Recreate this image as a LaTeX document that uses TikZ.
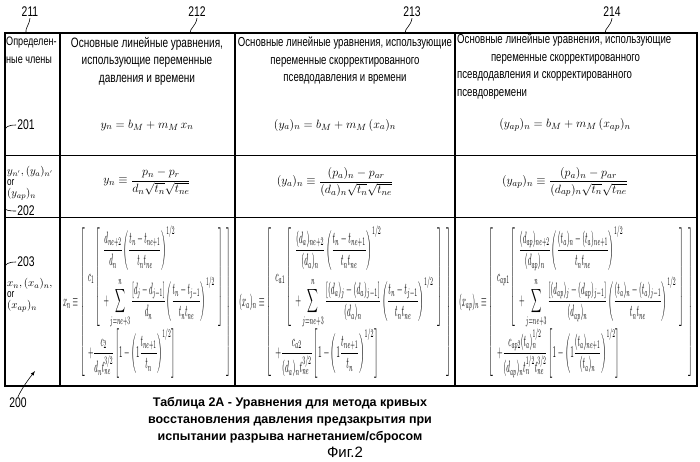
\documentclass[tikz,border=0pt]{standalone}
\usepackage{fontspec}
\usepackage{amsmath}
\usepackage{graphicx}
\setmainfont{Liberation Sans}[FakeStretch=0.74]
\newfontfamily\capfont{Liberation Sans}
\begin{document}
\begin{tikzpicture}[x=1pt,y=-1pt,
  grid/.style={line width=1.1pt},
  hdr/.style={font=\fontsize{13.6}{17.5}\selectfont, anchor=north, inner sep=0pt},
  lbl/.style={font=\fontsize{14}{14}\selectfont, inner sep=1pt},
  eq/.style={font=\fontsize{12.5}{14}\selectfont},
  lead/.style={line width=0.6pt},
  captxt/.style={font=\capfont\bfseries\fontsize{12.5}{17}\selectfont, align=center, inner sep=0pt}]
\useasboundingbox (0,0) rectangle (700,461);
% table
\coordinate (tl) at (5,33); \coordinate (br) at (697,386);
\draw[grid] (tl) rectangle (br);
\draw[grid] (60,33) -- (60,386);
\draw[grid] (235,33) -- (235,386);
\draw[grid] (455,33) -- (455,386);
\draw[line width=0.6pt] (5,155) -- (697,155);
\draw[line width=0.6pt] (5,217) -- (697,217);
% headers
\node[hdr, anchor=north west, align=left, font=\fontsize{12.3}{17.5}\selectfont] (h1) at (6,37) {Определен-\\ные члены};
\node[hdr, align=center] (h2) at (147,37) {Основные линейные уравнения,\\использующие переменные\\давления и времени};
\node[hdr, align=center, font=\fontsize{13}{17.5}\selectfont] (h3) at (345,37) {Основные линейные уравнения, использующие\\переменные скорректированного\\псевдодавления и времени};
\node[hdr, anchor=north west, align=left, font=\fontsize{13}{17.5}\selectfont] (h4) at (457,34) {Основные линейные уравнения, использующие\\\hspace*{2.6em}переменные скорректированного\\псевдодавления и скорректированного\\псевдовремени};
% row 1 equations
\node[eq] (e12) at (147,125) {$y_n = b_M + m_M\, x_n$};
\node[eq] (e13) at (335,125) {$(y_a)_n = b_M + m_M\,(x_a)_n$};
\node[eq] (e14) at (565,125) {$(y_{ap})_n = b_M + m_M\,(x_{ap})_n$};
% row 2
\node[anchor=west, align=left, font=\fontsize{11}{11}\selectfont, inner sep=0pt] (r21) at (7,183) {$y_{n'}, (y_a)_{n'}$\\or\\$(y_{ap})_n$};
\node[eq] (e22) at (147,182) {$y_n \equiv \dfrac{p_n - p_r}{d_n\sqrt{t_n}\sqrt{t_{ne}}}$};
\node[eq] (e23) at (335,182) {$(y_a)_n \equiv \dfrac{(p_a)_n - p_{ar}}{(d_a)_n\sqrt{t_n}\sqrt{t_{ne}}}$};
\node[eq] (e24) at (565,182) {$(y_{ap})_n \equiv \dfrac{(p_a)_n - p_{ar}}{(d_{ap})_n\sqrt{t_n}\sqrt{t_{ne}}}$};
% row 3
\node[anchor=west, align=left, font=\fontsize{11}{11}\selectfont, inner sep=0pt] (r31) at (7,295) {$x_n, (x_a)_n,$\\or\\$(x_{ap})_n$};
\node (e32) at (147,302) {\resizebox*{168pt}{152pt}{$x_n\equiv\left[\begin{array}{l}
c_1\left[\begin{array}{l}\dfrac{d_{ne+2}}{d_n}\left(\dfrac{t_n-t_{ne+1}}{t_nt_{ne}}\right)^{1/2}\\[10pt]
+\displaystyle\sum_{j=ne+3}^{n}\dfrac{[d_j-d_{j-1}]}{d_n}\left(\dfrac{t_n-t_{j-1}}{t_nt_{ne}}\right)^{1/2}\end{array}\right]\\[20pt]
+\dfrac{c_2}{d_nt_{ne}^{3/2}}\left[1-\left(1\dfrac{t_{ne+1}}{t_n}\right)^{1/2}\right]\end{array}\right]$}};
\node (e33) at (345,302) {\resizebox*{212pt}{152pt}{$(x_a)_n\equiv\left[\begin{array}{l}
c_{a1}\left[\begin{array}{l}\dfrac{(d_a)_{ne+2}}{(d_a)_n}\left(\dfrac{t_n-t_{ne+1}}{t_nt_{ne}}\right)^{1/2}\\[10pt]
+\displaystyle\sum_{j=ne+3}^{n}\dfrac{[(d_a)_j-(d_a)_{j-1}]}{(d_a)_n}\left(\dfrac{t_n-t_{j-1}}{t_nt_{ne}}\right)^{1/2}\end{array}\right]\\[20pt]
+\dfrac{c_{a2}}{(d_a)_nt_{ne}^{3/2}}\left[1-\left(1\dfrac{t_{ne+1}}{t_n}\right)^{1/2}\right]\end{array}\right]$}};
\node (e34) at (576,302) {\resizebox*{234pt}{152pt}{$(x_{ap})_n\equiv\left[\begin{array}{l}
c_{ap1}\left[\begin{array}{l}\dfrac{(d_{ap})_{ne+2}}{(d_{ap})_n}\left(\dfrac{(t_a)_n-(t_a)_{ne+1}}{t_nt_{ne}}\right)^{1/2}\\[10pt]
+\displaystyle\sum_{j=ne+3}^{n}\dfrac{[(d_{ap})_j-(d_{ap})_{j-1}]}{(d_{ap})_n}\left(\dfrac{(t_a)_n-(t_a)_{j-1}}{t_nt_{ne}}\right)^{1/2}\end{array}\right]\\[20pt]
+\dfrac{c_{ap2}(t_a)_n^{1/2}}{(d_{ap})_nt_n^{1/2}t_{ne}^{3/2}}\left[1-\left(1\dfrac{(t_a)_{ne+1}}{(t_a)_n}\right)^{1/2}\right]\end{array}\right]$}};
% reference labels
\node[lbl] (n211) at (30,12) {211};
\node[lbl] (n212) at (197,12) {212};
\node[lbl] (n213) at (412,12) {213};
\node[lbl] (n214) at (612,12) {214};
\coordinate (c211) at (26,33); \coordinate (c212) at (190,33);
\coordinate (c213) at (405,33); \coordinate (c214) at (605,33);
\draw[lead] (n211.south) .. controls (29,26) and (25,28) .. (c211);
\draw[lead] (n212.south) .. controls (196,26) and (190,28) .. (c212);
\draw[lead] (n213.south) .. controls (411,26) and (405,28) .. (c213);
\draw[lead] (n214.south) .. controls (611,26) and (605,28) .. (c214);
\node[lbl] (n201) at (26,125) {201};
\node[lbl] (n202) at (26,211) {202};
\node[lbl] (n203) at (26,262) {203};
\coordinate (c201) at (5,131); \coordinate (c202) at (5,208); \coordinate (c203) at (5,268);
\draw[lead] (n201.west) .. controls (8,125) and (5,127) .. (c201);
\draw[lead] (n202.west) .. controls (8,211) and (5,210) .. (c202);
\draw[lead] (n203.west) .. controls (8,262) and (5,264) .. (c203);
\node[lbl] (n200) at (18,403) {200};
\coordinate (a200) at (35,371);
\draw[lead,-latex] (n200.north) .. controls (22,388) and (28,380) .. (a200);
% caption
\node[captxt] (capt) at (290,420) {Таблица 2А - Уравнения для метода кривых\\восстановления давления предзакрытия при\\испытании разрыва нагнетанием/сбросом};
\node[font=\capfont\fontsize{15}{15}\selectfont] (fig) at (345,452) {Фиг.2};
\end{tikzpicture}
\end{document}
